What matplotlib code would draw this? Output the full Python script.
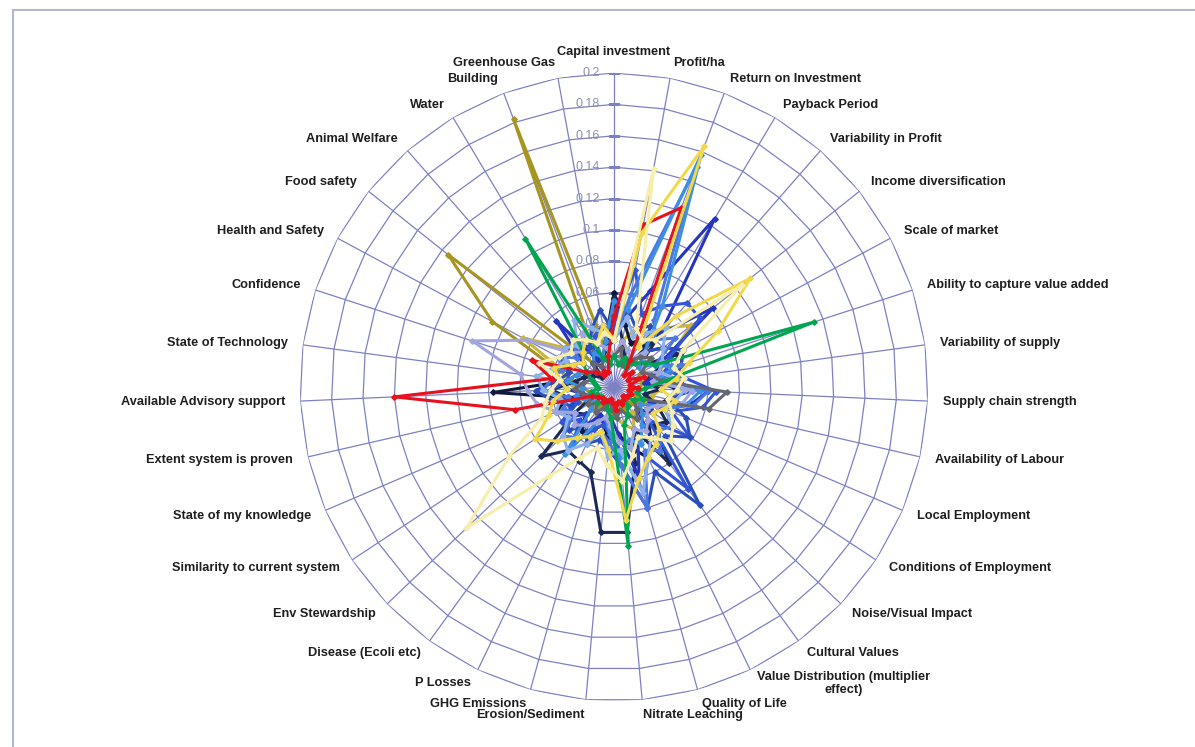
"""Radar chart of criteria weights for a set of farm systems (Excel-style spider plot)."""

import matplotlib

matplotlib.use("Agg")

import matplotlib.pyplot as plt
import numpy as np
from matplotlib.lines import Line2D
from matplotlib.transforms import offset_copy

categories = [
    "Capital investment", "Profit/ha", "Return on Investment", "Payback Period",
    "Variability in Profit", "Income diversification", "Scale of market",
    "Ability to capture value added", "Variability of supply", "Supply chain strength",
    "Availability of Labour", "Local Employment", "Conditions of Employment",
    "Noise/Visual Impact", "Cultural Values", "Value Distribution (multiplier\neffect)",
    "Quality of Life", "Nitrate Leaching", "Erosion/Sediment", "GHG Emissions",
    "P Losses", "Disease (Ecoli etc)", "Env Stewardship", "Similarity to current system",
    "State of my knowledge", "Extent system is proven", "Available Advisory support",
    "State of Technology", "Confidence", "Health and Safety", "Food safety",
    "Animal Welfare", "Water", "Building", "Greenhouse Gas",
]

r_ticks = [0.0, 0.02, 0.04, 0.06, 0.08, 0.1, 0.12, 0.14, 0.16, 0.18, 0.2]

# one list per series, 35 values in category order
olive = [0.02, 0.015, 0.02, 0.015, 0.02, 0.025, 0.02, 0.015, 0.02, 0.015,
         0.01, 0.015, 0.02, 0.015, 0.01, 0.015, 0.01, 0.015, 0.02, 0.015,
         0.01, 0.015, 0.02, 0.015, 0.02, 0.015, 0.02, 0.025, 0.04, 0.088,
         0.135, 0.02, 0.025, 0.182, 0.02]
khaki = [0.02, 0.03, 0.04, 0.035, 0.05, 0.063, 0.04, 0.03, 0.025, 0.03,
         0.025, 0.02, 0.03, 0.025, 0.02, 0.03, 0.025, 0.02, 0.015, 0.02,
         0.025, 0.02, 0.015, 0.02, 0.025, 0.02, 0.025, 0.03, 0.035, 0.066,
         0.04, 0.03, 0.035, 0.04, 0.03]
navy_dark = [0.06, 0.04, 0.03, 0.035, 0.03, 0.04, 0.05, 0.045, 0.03, 0.04,
             0.035, 0.03, 0.025, 0.03, 0.04, 0.05, 0.04, 0.03, 0.035, 0.025,
             0.03, 0.035, 0.025, 0.03, 0.04, 0.03, 0.077, 0.03, 0.025, 0.02,
             0.015, 0.02, 0.025, 0.02, 0.03]
navy = [0.057, 0.03, 0.02, 0.015, 0.044, 0.02, 0.045, 0.025, 0.02, 0.03,
        0.02, 0.03, 0.04, 0.035, 0.06, 0.03, 0.05, 0.093, 0.093, 0.056,
        0.052, 0.05, 0.064, 0.03, 0.015, 0.03, 0.04, 0.025, 0.02, 0.015,
        0.01, 0.02, 0.015, 0.02, 0.025]
dark_blue = [0.03, 0.045, 0.065, 0.125, 0.045, 0.081, 0.035, 0.03, 0.02, 0.06,
             0.05, 0.025, 0.03, 0.02, 0.04, 0.035, 0.06, 0.03, 0.02, 0.025,
             0.02, 0.03, 0.025, 0.035, 0.03, 0.02, 0.03, 0.035, 0.04, 0.03,
             0.025, 0.056, 0.02, 0.03, 0.025]
royal = [0.04, 0.076, 0.05, 0.06, 0.071, 0.07, 0.04, 0.035, 0.045, 0.065,
         0.058, 0.04, 0.058, 0.03, 0.08, 0.05, 0.07, 0.04, 0.03, 0.025,
         0.03, 0.045, 0.03, 0.04, 0.025, 0.035, 0.04, 0.03, 0.03, 0.035,
         0.04, 0.03, 0.025, 0.035, 0.04]
mid_blue = [0.035, 0.05, 0.04, 0.045, 0.03, 0.04, 0.05, 0.045, 0.04, 0.05,
            0.035, 0.05, 0.058, 0.045, 0.093, 0.06, 0.08, 0.05, 0.04, 0.035,
            0.04, 0.03, 0.04, 0.035, 0.03, 0.04, 0.05, 0.035, 0.03, 0.04,
            0.03, 0.035, 0.03, 0.04, 0.05]
cornflower = [0.03, 0.06, 0.15, 0.05, 0.04, 0.05, 0.03, 0.045, 0.03, 0.06,
              0.052, 0.035, 0.045, 0.04, 0.05, 0.045, 0.08, 0.05, 0.035, 0.03,
              0.035, 0.04, 0.045, 0.03, 0.035, 0.03, 0.045, 0.04, 0.035, 0.04,
              0.03, 0.04, 0.035, 0.03, 0.035]
sky = [0.055, 0.05, 0.158, 0.06, 0.03, 0.02, 0.03, 0.04, 0.025, 0.055,
       0.048, 0.03, 0.02, 0.025, 0.03, 0.04, 0.035, 0.045, 0.03, 0.02,
       0.025, 0.053, 0.02, 0.015, 0.02, 0.025, 0.02, 0.03, 0.025, 0.02,
       0.015, 0.02, 0.025, 0.02, 0.03]
steel = [0.03, 0.045, 0.035, 0.04, 0.05, 0.04, 0.035, 0.03, 0.04, 0.045,
         0.04, 0.035, 0.045, 0.05, 0.04, 0.05, 0.07, 0.04, 0.045, 0.03,
         0.04, 0.05, 0.045, 0.035, 0.04, 0.035, 0.045, 0.05, 0.04, 0.035,
         0.04, 0.035, 0.05, 0.04, 0.035]
lavender = [0.02, 0.03, 0.025, 0.02, 0.03, 0.025, 0.02, 0.03, 0.025, 0.05,
            0.045, 0.03, 0.025, 0.03, 0.035, 0.03, 0.04, 0.035, 0.025, 0.02,
            0.025, 0.03, 0.035, 0.03, 0.04, 0.05, 0.055, 0.06, 0.095, 0.063,
            0.035, 0.03, 0.04, 0.03, 0.025]
gray = [0.02, 0.025, 0.015, 0.02, 0.025, 0.03, 0.02, 0.025, 0.03, 0.072,
        0.062, 0.02, 0.015, 0.02, 0.025, 0.02, 0.015, 0.02, 0.015, 0.01,
        0.015, 0.02, 0.015, 0.02, 0.015, 0.02, 0.025, 0.02, 0.015, 0.02,
        0.015, 0.02, 0.015, 0.02, 0.015]
green = [0.02, 0.015, 0.02, 0.015, 0.02, 0.025, 0.03, 0.134, 0.035, 0.02,
         0.015, 0.02, 0.015, 0.01, 0.015, 0.02, 0.025, 0.102, 0.02, 0.015,
         0.01, 0.012, 0.015, 0.01, 0.012, 0.015, 0.01, 0.012, 0.015, 0.02,
         0.025, 0.03, 0.11, 0.02, 0.015]
red = [0.045, 0.105, 0.122, 0.02, 0.01, 0.015, 0.01, 0.02, 0.01, 0.015,
       0.01, 0.012, 0.01, 0.008, 0.01, 0.012, 0.01, 0.015, 0.01, 0.008,
       0.01, 0.012, 0.01, 0.012, 0.015, 0.065, 0.14, 0.04, 0.055, 0.02,
       0.015, 0.01, 0.012, 0.01, 0.02]
yellow = [0.03, 0.10, 0.164, 0.03, 0.06, 0.111, 0.075, 0.05, 0.04, 0.03,
          0.04, 0.035, 0.03, 0.04, 0.045, 0.05, 0.06, 0.085, 0.04, 0.03,
          0.035, 0.04, 0.05, 0.06, 0.045, 0.04, 0.03, 0.035, 0.04, 0.03,
          0.025, 0.03, 0.035, 0.03, 0.04]
pale_yellow = [0.03, 0.141, 0.04, 0.035, 0.04, 0.104, 0.05, 0.04, 0.045, 0.04,
               0.035, 0.04, 0.045, 0.05, 0.04, 0.035, 0.045, 0.06, 0.05, 0.04,
               0.05, 0.07, 0.13, 0.08, 0.05, 0.045, 0.04, 0.035, 0.05, 0.04,
               0.035, 0.04, 0.035, 0.03, 0.035]

series = [
    (olive, "#A69520"), (khaki, "#C9B63A"), (navy_dark, "#0E1A3C"), (navy, "#1B2A55"),
    (dark_blue, "#2535C0"), (royal, "#3355D8"), (mid_blue, "#2A4FB8"),
    (cornflower, "#4A78E0"), (sky, "#3C8FE3"), (steel, "#8DB1EA"),
    (lavender, "#A3A6DE"), (gray, "#66666E"), (green, "#00A550"), (red, "#E8101C"),
    (yellow, "#F2D94A"), (pale_yellow, "#F6EEAA"),
]

W, H = 1195, 747
CX, CY, R = 614, 387, 314
GRID = "#7E80C4"

fig = plt.figure(figsize=(W / 100, H / 100), dpi=100)
fig.patch.set_facecolor("white")
ax = fig.add_axes([(CX - R) / W, (H - CY - R) / H, 2 * R / W, 2 * R / H], projection="polar")
ax.set_theta_zero_location("N")
ax.set_theta_direction(-1)
ax.set_ylim(0, 0.2)
ax.grid(False)
ax.set_xticks([])
ax.set_yticks([])
ax.spines["polar"].set_visible(False)
ax.patch.set_alpha(0)

n = len(categories)
theta = np.arange(n) * 2 * np.pi / n
theta_closed = np.append(theta, theta[0])

# polygon web
for r in r_ticks[1:]:
    ax.plot(theta_closed, [r] * (n + 1), color=GRID, lw=0.9, zorder=1)
for t in theta:
    ax.plot([t, t], [0, 0.2], color=GRID, lw=0.9, zorder=1)

for vals, col in series:
    v = np.append(vals, vals[0])
    ax.plot(theta_closed, v, color=col, lw=2.2, marker="D", ms=2.8, zorder=3)

# radial axis labels along the top spoke
lab_tr = offset_copy(ax.transData, fig=fig, x=-14, y=0, units="dots")
for r in r_ticks[1:]:
    ax.text(0, r, f"{r:g}", transform=lab_tr, ha="right", va="center",
            fontsize=9, color="#8C90B0", family="Liberation Sans", zorder=2)
ax.plot(np.zeros(len(r_ticks)), r_ticks, ls="none", marker="_", ms=8, mew=0.9,
        color=GRID, zorder=1)

# category labels placed just outside the web
r_lab = 0.2 * (R + 15) / R
for t, name in zip(theta, categories):
    s = np.sin(t)
    if abs(s) < 1e-6:
        ha, va = "center", "bottom"
    else:
        ha, va = ("left" if s > 0 else "right"), "center"
    ax.text(t, r_lab, name, ha=ha, va=va, multialignment="center",
            fontsize=9.2, fontweight="bold", color="#1E1E1E",
            family="Liberation Sans", clip_on=False)

# frame lines of the original screenshot
fig.add_artist(Line2D([13 / W, 1], [1 - 10 / H] * 2, transform=fig.transFigure,
                      color="#B4B8D4", lw=1.5))
fig.add_artist(Line2D([13 / W, 13 / W], [0, 1 - 10 / H], transform=fig.transFigure,
                      color="#B4B8D4", lw=1.5))

fig.savefig("out.png", dpi=100)
plt.close(fig)
